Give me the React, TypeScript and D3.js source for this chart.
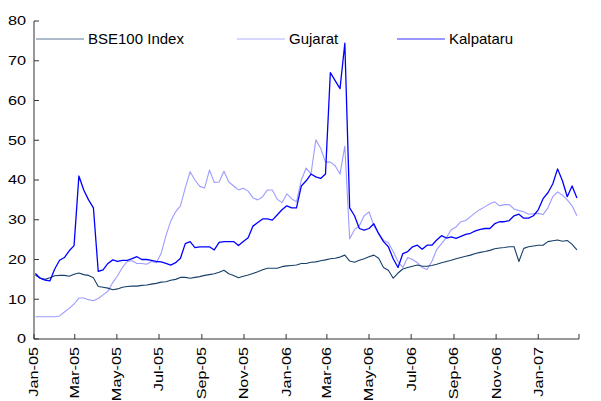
import React from "react";
import * as d3 from "d3";

// weekly closes, first week = 3 Jan 2005
const startDate = new Date(2005, 0, 3);

const bse100 = [
  16.1, 15.3, 15.0, 15.4, 15.9, 16.0, 16.0, 15.8, 16.3, 16.6,
  16.2, 16.0, 15.4, 13.2, 13.0, 12.8, 12.4, 12.6, 13.0, 13.2,
  13.3, 13.3, 13.5, 13.6, 13.8, 14.0, 14.3, 14.4, 14.8, 15.0,
  15.5, 15.5, 15.3, 15.5, 15.7, 16.0, 16.2, 16.4, 16.8, 17.3,
  16.4, 16.0, 15.4, 15.8, 16.1, 16.5, 16.9, 17.4, 17.8, 17.8,
  17.8, 18.2, 18.4, 18.5, 18.6, 19.0, 19.0, 19.3, 19.4, 19.7,
  19.9, 20.2, 20.3, 20.6, 21.1, 19.6, 19.3, 19.8, 20.2, 20.7,
  21.1, 20.3, 18.0, 17.3, 15.3, 16.6, 17.6, 18.0, 18.3, 18.6,
  18.3, 18.3, 18.5, 18.8, 19.2, 19.5, 19.8, 20.2, 20.5, 20.8,
  21.1, 21.5, 21.8, 22.0, 22.3, 22.7, 22.9, 23.0, 23.2, 23.2,
  19.5, 22.8, 23.2, 23.4, 23.6, 23.6, 24.5, 24.7, 24.9, 24.6,
  24.8, 23.8, 22.4,
];

const gujarat = [
  5.6, 5.6, 5.6, 5.6, 5.6, 5.8, 6.8, 7.7, 8.8, 10.3,
  10.3, 9.9, 9.6, 10.2, 11.1, 12.0, 14.2, 15.9, 18.0, 19.5,
  19.7, 19.0, 19.0, 18.8, 19.5, 19.2, 21.5, 26.0, 29.7, 32.0,
  33.5, 38.0, 42.1, 40.0, 38.4, 38.0, 42.5, 39.4, 39.5, 42.2,
  39.5, 38.5, 37.5, 37.9, 37.2, 35.5, 35.0, 35.8, 37.5, 37.5,
  35.2, 34.3, 36.5, 35.3, 34.5, 40.0, 43.0, 41.5, 50.1, 48.0,
  44.5, 44.5, 43.6, 41.5, 48.5, 25.2, 27.5, 28.5, 31.0, 32.0,
  28.5, 26.5, 24.8, 24.2, 22.0, 19.5, 18.0, 20.5, 20.0, 19.2,
  18.0, 17.5, 19.5, 22.5, 24.0, 25.5, 27.5, 28.2, 29.5, 29.8,
  30.8, 31.8, 32.6, 33.3, 34.0, 34.5, 33.5, 33.8, 33.8, 32.7,
  32.3, 32.0, 31.4, 31.5, 31.6, 31.3, 33.0, 35.8, 37.0, 36.2,
  35.0, 33.5, 31.0,
];

const kalpataru = [
  16.5, 15.3, 14.8, 14.6, 17.6, 19.8, 20.5, 22.2, 23.5, 41.0,
  37.5, 35.0, 33.0, 17.0, 17.4, 19.0, 19.9, 19.5, 19.8, 19.8,
  20.2, 20.7, 20.0, 20.0, 19.8, 19.5, 19.4, 19.0, 18.6, 19.2,
  20.3, 24.0, 24.5, 23.0, 23.2, 23.2, 23.2, 22.4, 24.3, 24.5,
  24.5, 24.5, 23.5, 24.5, 25.5, 28.4, 29.3, 30.2, 30.2, 29.9,
  31.2, 32.5, 33.5, 33.0, 33.0, 38.5, 39.8, 41.5, 40.8, 40.4,
  41.5, 67.0, 65.0, 63.0, 74.4, 33.0, 31.0, 27.8, 27.4, 27.8,
  29.0, 26.5, 24.5, 23.2, 20.2, 18.0, 21.5, 22.0, 23.2, 23.6,
  22.6, 23.6, 23.6, 24.9, 26.0, 25.4, 25.7, 25.3, 25.8, 26.3,
  26.6, 27.2, 27.6, 27.8, 27.8, 29.0, 29.5, 29.5, 29.8, 31.0,
  31.4, 30.4, 30.4, 31.0, 32.5, 35.3, 36.8, 39.0, 42.8, 39.8,
  35.8, 38.5, 35.5,
];

const seriesNames = ["BSE100 Index", "Gujarat", "Kalpataru"];
const seriesColors = ["#173f68", "#9c9cff", "#0000ff"];
const yTicks = [0, 10, 20, 30, 40, 50, 60, 70, 80];

const W = 601;
const H = 401;
const left = 34;
const right = 579;
const top = 21;
const bottom = 339;
const font = "Arial, 'Liberation Sans', sans-serif";

export default function App() {
  const x = d3
    .scaleTime()
    .domain([new Date(2005, 0, 1), new Date(2007, 2, 1)])
    .range([left, right]);
  const y = d3.scaleLinear().domain([0, 80]).range([bottom, top]);

  const xTicks = d3.timeMonth.every(2)!.range(new Date(2005, 0, 1), new Date(2007, 2, 2));
  const fmt = d3.timeFormat("%b-%y");

  const line = d3
    .line<number>()
    .x((_, i) => x(d3.timeDay.offset(startDate, i * 7)))
    .y((d) => y(d));

  const allSeries = [bse100, gujarat, kalpataru];
  // draw order: light one first so the darker lines sit on top
  const order = [1, 0, 2];

  const legendX = [36, 237, 397];

  return (
    <svg
      width={W}
      height={H}
      style={{ position: "absolute", left: 0, top: 0, background: "#fff" }}
      fontFamily={font}
    >
      {order.map((k) => (
        <path
          key={seriesNames[k]}
          d={line(allSeries[k]) || ""}
          fill="none"
          stroke={seriesColors[k]}
          strokeWidth={k === 2 ? 1.3 : 1.1}
          strokeLinejoin="round"
        />
      ))}

      {/* y axis */}
      <line x1={left} x2={left} y1={top} y2={bottom} stroke="#333" />
      {yTicks.map((t) => (
        <g key={t}>
          <line x1={left} x2={left + 5} y1={y(t)} y2={y(t)} stroke="#333" />
          <text
            transform={`translate(26,${y(t)}) scale(1.25,1)`}
            textAnchor="end"
            dominantBaseline="central"
            fontSize={13}
            fill="#000"
          >
            {t}
          </text>
        </g>
      ))}

      {/* x axis */}
      <line x1={left} x2={right} y1={bottom} y2={bottom} stroke="#333" />
      {xTicks.map((d, i) => (
        <g key={i}>
          <line x1={x(d)} x2={x(d)} y1={bottom - 5} y2={bottom} stroke="#333" />
          {i < xTicks.length - 1 && (
            <text
              transform={`translate(${x(d)},347) rotate(-90) scale(1.25,1)`}
              textAnchor="end"
              dominantBaseline="central"
              fontSize={13}
              fill="#000"
            >
              {fmt(d)}
            </text>
          )}
        </g>
      ))}

      {/* legend */}
      {seriesNames.map((n, k) => (
        <g key={n}>
          <line
            x1={legendX[k]}
            x2={legendX[k] + 48}
            y1={39}
            y2={39}
            stroke={seriesColors[k]}
            strokeWidth={1}
            opacity={k === 0 ? 0.7 : 0.8}
          />
          <text x={legendX[k] + 52} y={44} fontSize={15} fill="#000">
            {n}
          </text>
        </g>
      ))}
    </svg>
  );
}
